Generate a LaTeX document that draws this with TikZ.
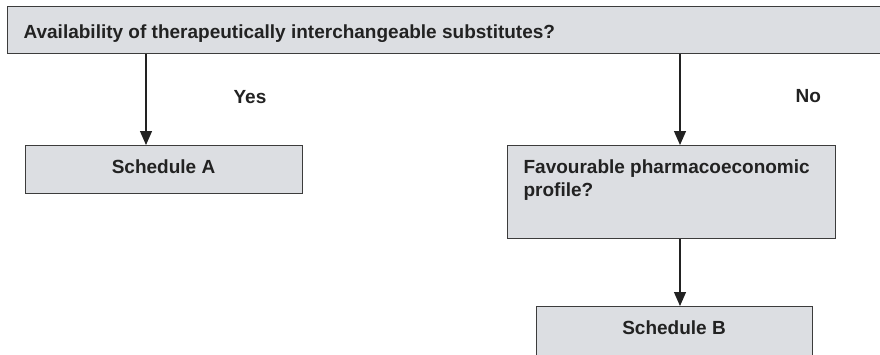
\documentclass[tikz,border=0pt]{standalone}
\usepackage{fontspec}
\setmainfont{Liberation Sans}
\usetikzlibrary{arrows.meta}
\definecolor{boxfill}{HTML}{DCDEE2}
\definecolor{boxline}{HTML}{3C3C3C}
\definecolor{ink}{HTML}{222222}
\tikzset{
  box/.style={draw=boxline, fill=boxfill, line width=1.3bp, rectangle, inner sep=0pt, anchor=north west},
  txt/.style={font=\bfseries\fontsize{19bp}{23bp}\selectfont, text=ink, inner sep=0pt, anchor=base west},
}
\begin{document}
\begin{tikzpicture}[x=1bp, y=-1bp, >={Triangle[width=12bp,length=14bp]}, line width=1.2bp]
\useasboundingbox (0,0) rectangle (880,354);
% boxes
\node[box, minimum width=880bp, minimum height=47bp](Q1) at (7,6){};
\node[box, minimum width=277bp, minimum height=48bp](A) at (25,145){};
\node[box, minimum width=328bp, minimum height=93bp](Q2) at (507,145){};
\node[box, minimum width=276bp, minimum height=50bp](B) at (536,306){};
% texts
\node[txt](Q1t) at (23,38){Availability of therapeutically interchangeable substitutes?};
\node[txt, anchor=base](At) at (163.5,173){Schedule A};
\node[txt](Q2a) at (523,173){Favourable pharmacoeconomic};
\node[txt](Q2b) at (523,196){profile?};
\node[txt, anchor=base](Bt) at (674,334){Schedule B};
\node[txt](yes) at (233,103){Yes};
\node[txt](no) at (795,102){No};
% arrows
\coordinate (a1) at (146,0);
\coordinate (a2) at (680,0);
\draw[->, draw=ink](Q1.south -| a1)--(A.north -| a1);
\draw[->, draw=ink](Q1.south -| a2)--(Q2.north -| a2);
\draw[->, draw=ink](Q2.south -| a2)--(B.north -| a2);
\end{tikzpicture}
\end{document}
